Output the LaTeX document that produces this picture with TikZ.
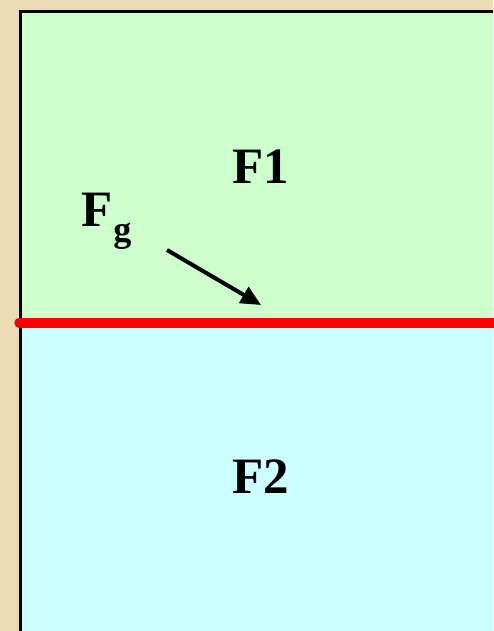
\documentclass[tikz,border=0pt]{standalone}
\usepackage{fontspec}
\setmainfont{Liberation Serif}
\usetikzlibrary{arrows.meta}
\definecolor{parch}{RGB}{236,220,180}
\definecolor{lgreen}{RGB}{204,255,204}
\definecolor{lcyan}{RGB}{204,255,255}
\tikzset{
  lbl/.style={font=\bfseries\fontsize{51}{51}\selectfont, inner sep=0pt},
}
\begin{document}
\begin{tikzpicture}[x=1pt,y=-1pt]
\useasboundingbox (0,0) rectangle (493,631);
\fill[parch] (0,0) rectangle (493,631);
\fill[lgreen] (20,11) rectangle (493,323);
\fill[lcyan] (20,323) rectangle (493,631);
\draw[line width=3pt] (20.5,631) -- (20.5,11.5) -- (493,11.5);
\draw[red, line width=9.5pt, line cap=round] (19,323) -- (500,323);
\node[lbl] (f1) at (261,167) {F1};
\node[lbl] (f2) at (261,477) {F2};
\node[lbl, anchor=base west] (fg) at (81,226) {F\kern1pt\raisebox{-0.3em}{\fontsize{36}{36}\selectfont g}};
\coordinate (as) at (167,250);
\coordinate (ae) at (261,305);
\draw[line width=4pt, -{Triangle[length=20pt,width=18pt]}] (as) -- (ae);
\end{tikzpicture}
\end{document}
